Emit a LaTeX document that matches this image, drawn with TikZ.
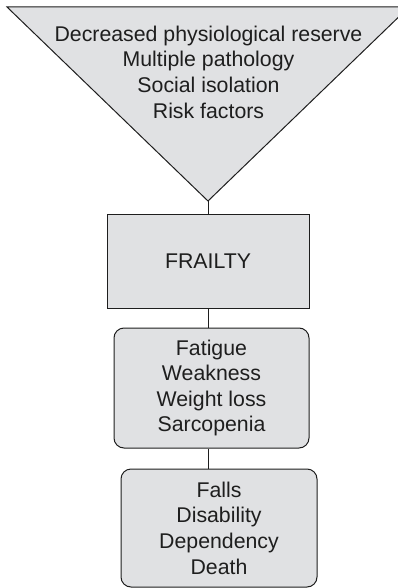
\documentclass[tikz,border=0pt]{standalone}
\usepackage{fontspec}
\setmainfont{Liberation Sans}
\definecolor{PaleGrey}{RGB}{224, 225, 227}
\definecolor{InkGrey}{RGB}{30, 30, 30}

\begin{document}
\begin{tikzpicture}[x=1pt, y=-1pt,
        stage/.style={draw=InkGrey, line width=1pt, fill=PaleGrey, text=InkGrey, inner sep=0pt, font=\fontsize{21.3}{25.6}\selectfont, align=center},
        link/.style={InkGrey, line width=1pt}
    ]
        \clip (0,0) rectangle (398,588);

        % inverted triangle of causes
        \draw[draw=InkGrey, line width=1pt, fill=PaleGrey] (7,7) -- (409,7) -- (208,201) -- cycle;
        \coordinate (apex) at (208,201);
        \node[text=InkGrey, font=\fontsize{21.3}{25.6}\selectfont, align=center] (causes) at (208.5,72)
            {Decreased physiological reserve\\Multiple pathology\\Social isolation\\Risk factors};

        \node[stage, minimum width=202, minimum height=94] (frailty) at (208,261) {FRAILTY};
        \node[stage, rounded corners=10pt, minimum width=195, minimum height=120] (signs) at (211.5,388)
            {Fatigue\\Weakness\\Weight loss\\Sarcopenia};
        \node[stage, rounded corners=10pt, minimum width=196, minimum height=118] (outcome) at (219,528)
            {Falls\\Disability\\Dependency\\Death};

        \draw[link] (apex) -- (frailty.north);
        \draw[link] (frailty.south) -- (frailty.south |- signs.north);
        \draw[link] (signs.south -| apex) -- (outcome.north -| apex);
    \end{tikzpicture}
\end{document}
